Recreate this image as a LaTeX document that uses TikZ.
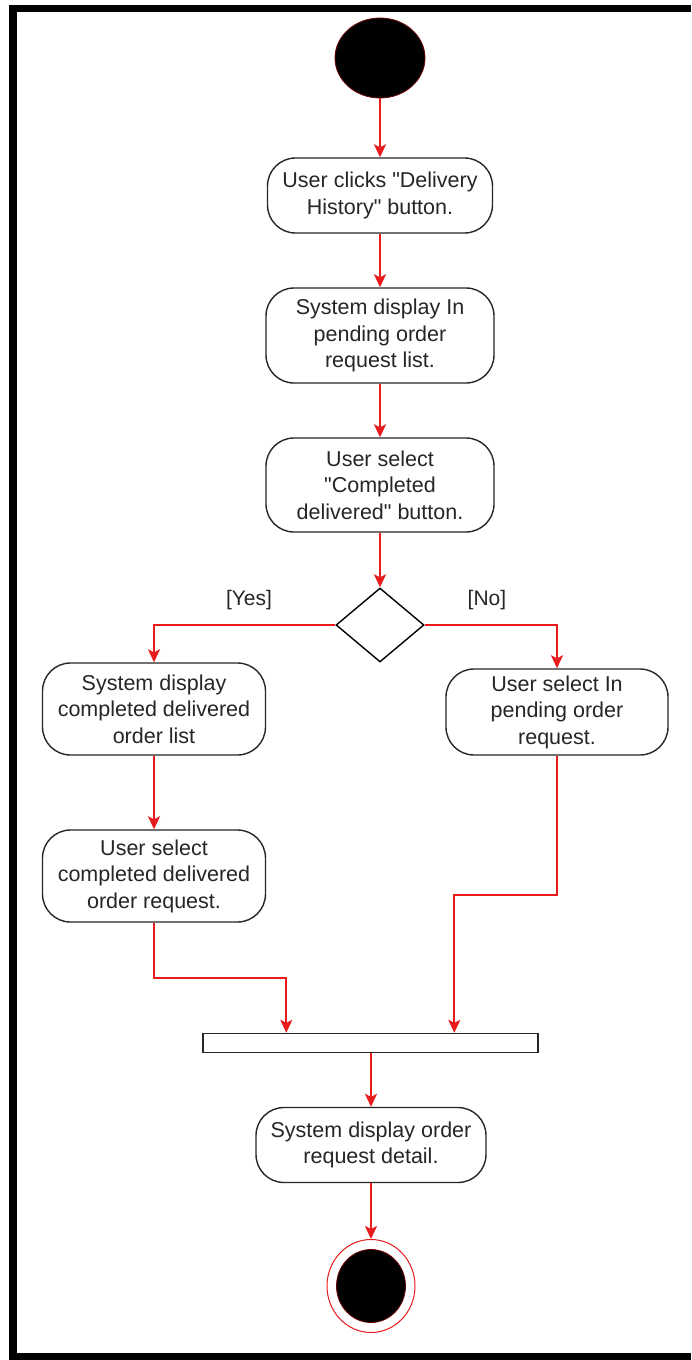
\documentclass[tikz,border=0pt]{standalone}
\usepackage{fontspec}
\setmainfont{Liberation Sans}[Ligatures=TeXOff]
\usetikzlibrary{shapes.geometric,arrows.meta}
\definecolor{flow}{RGB}{232,28,28}
\definecolor{ink}{RGB}{38,38,38}
\definecolor{rim}{RGB}{110,0,0}
\begin{document}
\begin{tikzpicture}[x=1pt,y=-1pt,
  act/.style={draw=ink, line width=1.4pt, rounded corners=28pt, fill=white,
    align=center, inner sep=0pt, text=ink,
    font=\fontsize{21.5}{26.5}\selectfont},
  guard/.style={text=ink, inner sep=0pt, font=\fontsize{21}{25}\selectfont},
  flowline/.style={draw=flow, line width=1.8pt,
    -{Stealth[length=13pt,width=12pt,inset=3pt]}},
  decision/.style={diamond, draw=black, line width=1.4pt, fill=white,
    inner sep=0pt, minimum width=88pt, minimum height=74pt},
  syncbar/.style={rectangle, draw=black!85, line width=1.4pt, fill=white,
    inner sep=0pt, minimum width=335pt, minimum height=19pt},
]
\useasboundingbox (0,0) rectangle (691,1360);

% frame (left, top and bottom edges)
\fill[black] (9,5) rectangle (691,12);
\fill[black] (9,5) rectangle (17,1360);
\fill[black] (9,1353) rectangle (691,1360);

% initial node
\node[ellipse, fill=black, draw=rim, line width=0.8pt, inner sep=0pt,
  minimum width=90pt, minimum height=80pt] (start) at (380,58) {};

% main column
\node[act, minimum width=225pt, minimum height=75pt] (b1) at (380,195.5)
  {User clicks "Delivery\\History" button.};
\node[act, minimum width=228pt, minimum height=95pt] (b2) at (380,335.5)
  {System display In\\pending order\\request list.};
\node[act, minimum width=228pt, minimum height=94pt] (b3) at (380,485)
  {User select\\"Completed\\delivered" button.};
\node[decision] (dec) at (380,625) {};

\node[guard] (yes) at (249,600) {[Yes]};
\node[guard] (no) at (487,600) {[No]};

% left branch
\node[act, minimum width=223pt, minimum height=92pt] (b4) at (154,709)
  {System display\\completed delivered\\order list};
\node[act, minimum width=223pt, minimum height=92pt] (b6) at (154,876)
  {User select\\completed delivered\\order request.};

% right branch
\node[act, minimum width=222pt, minimum height=86pt] (b5) at (557,712)
  {User select In\\pending order\\request.};

% join bar and tail
\node[syncbar] (bar) at (370.5,1043) {};
\node[act, minimum width=230pt, minimum height=75pt] (b7) at (371,1145)
  {System display order\\request detail.};

\node[ellipse, draw=flow, line width=1pt, fill=white, inner sep=0pt,
  minimum width=88pt, minimum height=93pt] (finish) at (371,1286) {};
\node[ellipse, fill=black, draw=rim, line width=0.8pt, inner sep=0pt,
  minimum width=69pt, minimum height=73pt] (finishcore) at (finish.center) {};

% bends of the joining flows
\coordinate (kL) at (154,978);
\coordinate (kR) at (557,895);

% flows
\draw[flowline] (start) -- (b1);
\draw[flowline] (b1) -- (b2);
\draw[flowline] (b2) -- (b3);
\draw[flowline] (b3) -- (dec);
\draw[flowline] (dec.west) -| (b4.north);
\draw[flowline] (dec.east) -| (b5.north);
\draw[flowline] (b4) -- (b6);
\draw[flowline] (b6.south) -- (kL) -| ([xshift=84pt]bar.north west);
\draw[flowline] (b5.south) -- (kR) -| ([xshift=252pt]bar.north west);
\draw[flowline] (bar.south -| b7.north) -- (b7.north);
\draw[flowline] (b7) -- (finish);
\end{tikzpicture}
\end{document}
